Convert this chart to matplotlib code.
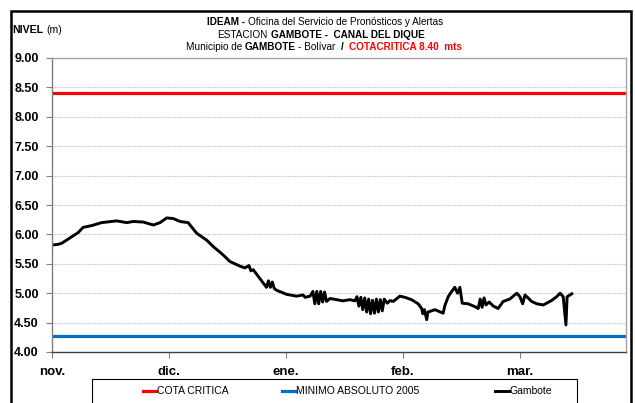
import matplotlib
matplotlib.use("Agg")
import matplotlib.pyplot as plt
from matplotlib import font_manager as fm
from matplotlib.patches import Rectangle

# ---------------- data ----------------
meses = ["nov.", "dic.", "ene.", "feb.", "mar."]
mes_pos = [0, 30, 60, 90, 120]          # day index of each month label
cota_critica = 8.40
minimo_absoluto_2005 = 4.27

dias = [0, 1.5, 2.5, 4.6, 6.7, 8.0, 10.2, 12.7, 16.6, 19.2, 20.8, 23.4, 26.0, 27.7,
        29.4, 31.1, 32.8, 34.9, 37.1, 39.7, 41.4, 43.9, 45.6, 48.2, 49.5, 50.5, 51.0,
        51.6, 53.3, 55.0, 55.5, 56.0, 56.5, 57.0, 57.6, 60.2, 62.7, 64.4, 64.9, 66.2,
        66.9, 67.4, 67.9, 68.4, 68.9, 69.4, 69.9, 70.4, 71.3, 73.0, 74.6, 76.4, 77.7,
        78.2, 78.7, 79.2, 79.7, 80.2, 80.7, 81.2, 81.7, 82.2, 82.7, 83.2, 83.7, 84.2,
        84.7, 85.2, 86.0, 86.7, 87.5, 89.2, 90.5, 92.2, 93.9, 94.8, 95.1, 95.5, 96.1,
        96.4, 96.9, 98.2, 100.3, 100.8, 101.6, 102.5, 103.3, 104.0, 104.6, 105.2,
        106.7, 108.5, 109.3, 109.8, 110.3, 110.8, 111.3, 112.1, 113.2, 114.4, 115.7,
        117.4, 119.2, 120.0, 120.7, 121.3, 123.0, 124.3, 126.0, 128.1, 129.4, 130.3,
        131.1, 131.8, 132.1, 133.3]
nivel = [5.82, 5.83, 5.85, 5.94, 6.03, 6.12, 6.15, 6.20, 6.23, 6.20, 6.22, 6.21, 6.16, 6.20,
         6.28, 6.27, 6.22, 6.20, 6.02, 5.90, 5.79, 5.65, 5.54, 5.46, 5.43, 5.47, 5.38,
         5.40, 5.25, 5.10, 5.21, 5.10, 5.19, 5.08, 5.05, 4.98, 4.95, 4.97, 4.93, 4.95,
         5.03, 4.82, 5.03, 4.82, 5.03, 4.85, 5.02, 4.86, 4.91, 4.89, 4.87, 4.89, 4.87,
         4.94, 4.78, 4.93, 4.72, 4.92, 4.68, 4.90, 4.65, 4.88, 4.66, 4.90, 4.68, 4.89,
         4.70, 4.90, 4.83, 4.875, 4.86, 4.95, 4.93, 4.89, 4.82, 4.74, 4.65, 4.72, 4.55,
         4.68, 4.69, 4.72, 4.66, 4.80, 4.94, 5.03, 5.10, 5.00, 5.10, 4.83,
         4.82, 4.77, 4.74, 4.90, 4.76, 4.92, 4.80, 4.85, 4.78, 4.74, 4.86,
         4.90, 5.00, 4.94, 4.82, 4.97, 4.86, 4.82, 4.80, 4.875, 4.94, 5.00,
         4.94, 4.46, 4.94, 4.99]

# ---------------- fonts ----------------
names = {f.name for f in fm.fontManager.ttflist}
if "Liberation Sans Narrow" in names:
    NARROW = ["Liberation Sans Narrow", "DejaVu Sans"]
    tsize = 8.4
    lsize = 8.8
    nsize = 9.0
else:
    NARROW = ["Liberation Sans", "DejaVu Sans"]
    tsize = 7.2
    lsize = 7.5
    nsize = 7.6
SANS = ["Liberation Sans", "DejaVu Sans"]
plt.rcParams["font.family"] = SANS

W, H = 635, 403
fig = plt.figure(figsize=(W / 100, H / 100), dpi=100)
ax = fig.add_axes([52 / W, 1 - 352 / H, (626 - 52) / W, (352 - 58) / H])

ax.set_xlim(0, 147.2)
ax.set_ylim(4, 9)
yt = [4 + 0.5 * i for i in range(11)]
ax.set_yticks(yt)
ax.set_yticklabels([f"{v:.2f}" for v in yt], fontsize=9, fontweight="bold", family=SANS)
ax.set_xticks(mes_pos)
ax.set_xticklabels(meses, fontsize=9.5, fontweight="bold", family=SANS)

ax.yaxis.grid(True, linestyle=(0, (1, 1)), color="#BDBDBD", linewidth=0.8)
ax.set_axisbelow(True)
for s in ("top", "right"):
    ax.spines[s].set_color("#A6A6A6")
    ax.spines[s].set_linewidth(1.0)
ax.spines["left"].set_color("#7F7F7F")
ax.spines["bottom"].set_color("#404040")
ax.spines["left"].set_linewidth(1.0)
ax.spines["bottom"].set_linewidth(1.0)
ax.tick_params(axis="y", direction="out", length=4, width=0.8, color="#7F7F7F", pad=5.5)
ax.tick_params(axis="x", direction="out", length=4, width=0.8, color="#7F7F7F", pad=6)

l1 = ax.axhline(cota_critica, color="#FF0000", linewidth=2.3, label="COTA CRITICA")
l2 = ax.axhline(minimo_absoluto_2005, color="#0070C0", linewidth=2.3, label="MINIMO ABSOLUTO 2005")
l3, = ax.plot(dias, nivel, color="black", linewidth=2.1, label="Gambote", solid_joinstyle="round")

# ---------------- legend (one entry per slot, as in the original box) ----------------
for handle, x_px in ((l1, 142.5), (l2, 281.5), (l3, 495.0)):
    fig.legend(handles=[handle], loc="center left", bbox_to_anchor=(x_px / W, 1 - 391.5 / H),
               frameon=False, prop={"family": NARROW, "size": lsize},
               handlelength=1.3, handletextpad=0.1, borderpad=0, borderaxespad=0)
fig.patches.append(Rectangle((92 / W, -0.1), (577 - 92) / W, (403 - 379) / H + 0.1,
                             transform=fig.transFigure, fill=False, edgecolor="black",
                             linewidth=0.8))
fig.patches.append(Rectangle((11 / W, -0.1), (631 - 11) / W, 1 - 11 / H + 0.1,
                             transform=fig.transFigure, fill=False, edgecolor="black",
                             linewidth=1.8))

# ---------------- titles (mixed styles) ----------------
renderer = fig.canvas.get_renderer()


def width_px(s, weight, size):
    t = fig.text(0, 0, s, fontsize=size, family=NARROW, fontweight=weight)
    w = t.get_window_extent(renderer=renderer).width
    t.remove()
    return w


def rich_line(y_px, parts, size, x_px, align="center"):
    # parts: (text, weight, color, spaces_after)
    sp_w = width_px("a a", "normal", size) - width_px("aa", "normal", size)
    widths = [width_px(p[0], p[1], size) for p in parts]
    total = sum(widths) + sum(p[3] * sp_w for p in parts)
    x = x_px - total / 2 if align == "center" else x_px
    for (s, wgt, col, sp), w in zip(parts, widths):
        fig.text(x / W, 1 - y_px / H, s, fontsize=size, family=NARROW, fontweight=wgt,
                 color=col, va="center", ha="left")
        x += w + sp * sp_w


rich_line(22, [("IDEAM -", "bold", "black", 1),
               ("Oficina del Servicio de Pronósticos y Alertas", "normal", "black", 0)],
          tsize, 325)
rich_line(34.5, [("ESTACION", "normal", "black", 1),
                 ("GAMBOTE -  CANAL DEL DIQUE", "bold", "black", 0)],
          tsize, 321)
rich_line(47, [("Municipio de", "normal", "black", 1),
               ("GAMBOTE", "bold", "black", 1),
               ("- Bolívar", "normal", "black", 2),
               ("/", "bold", "black", 2),
               ("COTACRITICA 8.40  mts", "bold", "#FF0000", 0)],
          tsize, 324)
rich_line(30, [("NIVEL", "bold", "black", 1), ("(m)", "normal", "black", 0)],
          nsize, 12.5, align="left")

fig.savefig("out.png", dpi=100)
